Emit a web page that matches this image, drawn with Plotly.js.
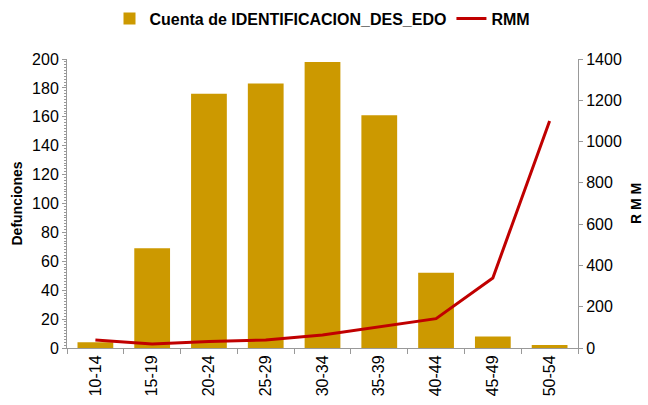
<!DOCTYPE html>
<html>
<head>
<meta charset="utf-8">
<script src="https://cdn.plot.ly/plotly-3.0.1.min.js"></script>
<style>
  html, body { margin: 0; padding: 0; background: #fff; }
  #chart { width: 648px; height: 405px; }
</style>
</head>
<body>
<div id="chart"></div>
<script>
const ageGroups = ["10-14", "15-19", "20-24", "25-29", "30-34", "35-39", "40-44", "45-49", "50-54"];
const deaths = [4, 69, 176, 183, 198, 161, 52, 8, 2];
const rmm = [39, 19, 32, 39, 63, 103, 142, 339, 1100];

const AXIS_GREY = "#999999";
const FONT = "Liberation Sans, Arial, sans-serif";

const data = [
  {
    x: ageGroups,
    y: deaths,
    type: "bar",
    name: "<b>Cuenta de IDENTIFICACION_DES_EDO</b>",
    marker: { color: "#CC9900" },
    hoverinfo: "skip"
  },
  {
    x: ageGroups,
    y: rmm,
    type: "scatter",
    mode: "lines",
    name: "<b>RMM</b>",
    yaxis: "y2",
    line: { color: "#C00000", width: 3 },
    hoverinfo: "skip"
  }
];

const layout = {
  width: 648,
  height: 405,
  margin: { t: 59, r: 70, b: 57, l: 67, autoexpand: false },
  paper_bgcolor: "#ffffff",
  plot_bgcolor: "#ffffff",
  font: { family: FONT, size: 16, color: "#000000" },
  bargap: 0.37,
  showlegend: true,
  legend: {
    orientation: "h",
    x: 0.5,
    xanchor: "center",
    y: 1.14,
    yanchor: "middle",
    font: { family: FONT, size: 16 },
    traceorder: "normal"
  },
  xaxis: {
    type: "category",
    showline: true,
    linecolor: AXIS_GREY,
    ticks: "outside",
    tickcolor: AXIS_GREY,
    ticklen: 5,
    tickangle: -90,
    showgrid: false,
    zeroline: false,
    tickson: "boundaries"
  },
  yaxis: {
    range: [0, 200],
    dtick: 20,
    showline: true,
    linecolor: AXIS_GREY,
    ticks: "outside",
    tickcolor: AXIS_GREY,
    ticklen: 4,
    minor: { ticks: "outside", dtick: 2, ticklen: 2, tickcolor: AXIS_GREY },
    showgrid: false,
    zeroline: false,
    title: { text: "<b>Defunciones</b>", font: { family: FONT, size: 14 }, standoff: 6 }
  },
  yaxis2: {
    overlaying: "y",
    side: "right",
    range: [0, 1400],
    dtick: 200,
    showline: true,
    linecolor: AXIS_GREY,
    ticks: "outside",
    tickcolor: AXIS_GREY,
    ticklen: 4,
    showgrid: false,
    zeroline: false,
    title: { text: "<b>R M M</b>", font: { family: FONT, size: 14 }, standoff: 10 }
  }
};

Plotly.newPlot("chart", data, layout, { displayModeBar: false, staticPlot: true });
</script>
</body>
</html>
